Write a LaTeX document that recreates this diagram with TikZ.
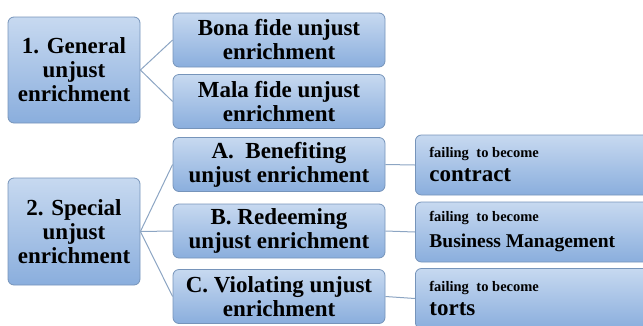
\documentclass[tikz,border=0pt]{standalone}
\usepackage{fontspec}
\setmainfont{Liberation Serif}
\usepackage{tikz}
\usetikzlibrary{calc}
\usepackage{xcolor}

\definecolor{boxtop}{RGB}{199,217,240}
\definecolor{boxbottom}{RGB}{138,174,221}
\definecolor{boxline}{RGB}{118,148,186}
\definecolor{linkline}{RGB}{140,165,195}

\newcommand{\failtext}{{\fontsize{14.5}{15}\selectfont failing\hspace{4pt} to become}}

\tikzset{
  every box/.style={draw=boxline, line width=0.8pt, rounded corners=6pt,
    top color=boxtop, bottom color=boxbottom, inner sep=0pt,
    align=center, font=\bfseries\fontsize{23}{24}\selectfont},
  fail box/.style={every box, anchor=west, minimum width=245, minimum height=60,
    text width=217, inner xsep=14pt, align=flush left},
  link/.style={draw=linkline, line width=1pt}
}

\begin{document}
\begin{tikzpicture}[x=1pt, y=-1pt]
\useasboundingbox (0,0) rectangle (643,325);
\clip (0,0) rectangle (643,325);

\node [every box, minimum width=132, minimum height=106] (general) at (74,70)
  {1. General\\unjust\\enrichment};
\node [every box, minimum width=132, minimum height=107] (special) at (74,231.5)
  {2. Special\\unjust\\enrichment};

\foreach \m/\y/\l in {bona/40/{Bona fide unjust\\enrichment},
                      mala/101.5/{Mala fide unjust\\enrichment}}
  \node [every box, minimum width=212, minimum height=54] (\m) at (279,\y) {\l};

\foreach \m/\y/\l in {benefit/164.5/{A.\ \ Benefiting\\unjust enrichment},
                      redeem/231/{B. Redeeming\\unjust enrichment},
                      violate/296.5/{C. Violating unjust\\enrichment}}
  \node [every box, minimum width=212, minimum height=54] (\m) at (279,\y) {\l};

% failing to become ...
\node [fail box] (become-benefit) at (415,165) {\failtext\\contract};
\node [fail box] (become-redeem) at (415,232)
  {\failtext\\[2pt]{\fontsize{19.5}{20}\selectfont Business Management}};
\node [fail box] (become-violate) at (415,298.5) {\failtext\\torts};

\foreach \m in {bona,mala}
  \draw [link] (general.east) -- (\m.west);

\foreach \m in {benefit,redeem,violate}
  \draw [link] (special.east) -- (\m.west);

\foreach \m in {benefit,redeem,violate}
  \draw [link] (\m.east) -- (become-\m.west);

\end{tikzpicture}
\end{document}
